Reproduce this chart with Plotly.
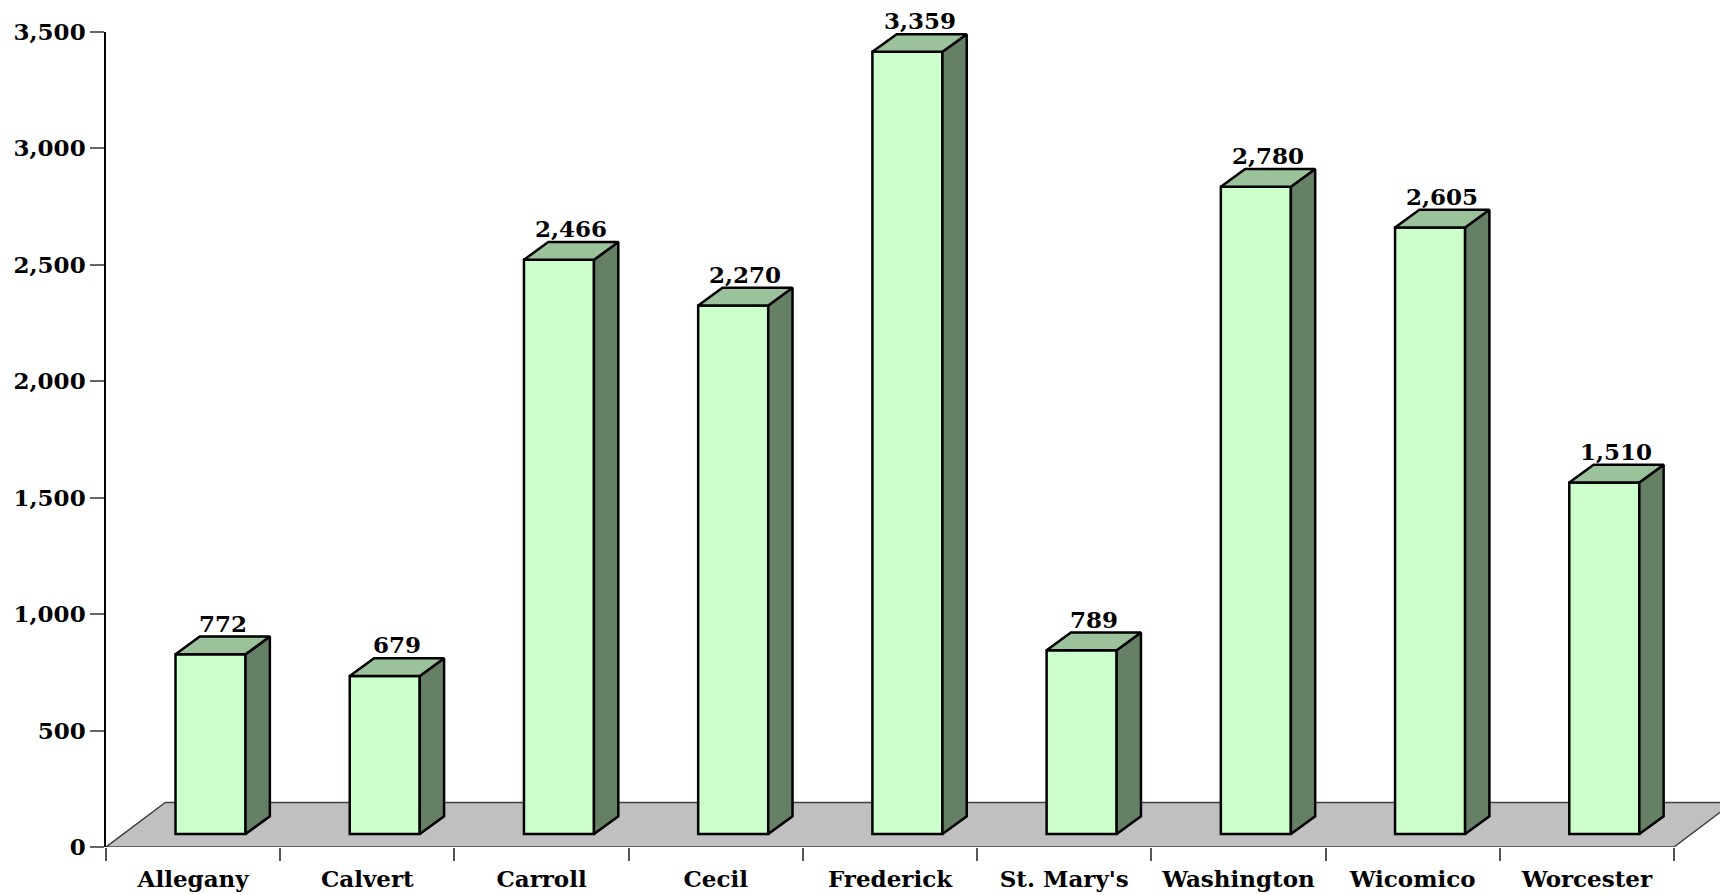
import plotly.graph_objs as go

counties = ['Allegany', 'Calvert', 'Carroll', 'Cecil', 'Frederick',
            "St. Mary's", 'Washington', 'Wicomico', 'Worcester']
values = [772, 679, 2466, 2270, 3359, 789, 2780, 2605, 1510]

# fake 3d geometry, in axis units
bar_width = 0.402
front_dx, front_dy = 0.1, 55.8     # how far the bar front sits behind the axis plane
depth_dx, depth_dy = 0.1395, 76.0  # bar depth
floor_dx, floor_dy = 0.3404, 191.5

font = dict(family='DejaVu Serif', size=23, color='black', weight='bold')

n = len(counties)
xs = [i + front_dx for i in range(n)]

# front faces
bars = go.Bar(x=xs, y=values, base=front_dy, width=bar_width,
              marker=dict(color='#CCFFCC', line=dict(color='black', width=2.5)),
              hoverinfo='skip', showlegend=False)

# side + top faces, one polygon per bar separated by None
side_x, side_y, top_x, top_y = [], [], [], []
for x, v in zip(xs, values):
    x0 = x - bar_width / 2
    x1 = x + bar_width / 2
    top = v + front_dy
    side_x += [x1, x1 + depth_dx, x1 + depth_dx, x1, x1, None]
    side_y += [front_dy, front_dy + depth_dy, top + depth_dy, top, front_dy, None]
    top_x += [x0, x1, x1 + depth_dx, x0 + depth_dx, x0, None]
    top_y += [top, top, top + depth_dy, top + depth_dy, top, None]

sides = go.Scatter(x=side_x, y=side_y, mode='lines', fill='toself', fillcolor='#668066',
                   line=dict(color='black', width=2.5), hoverinfo='skip', showlegend=False)
tops = go.Scatter(x=top_x, y=top_y, mode='lines', fill='toself', fillcolor='#9BC29B',
                  line=dict(color='black', width=2.5), hoverinfo='skip', showlegend=False)

fig = go.Figure(data=[bars, sides, tops])

# grey floor under the bars
left, right = -0.5, n - 0.5
fig.add_shape(type='path', xref='x', yref='y', layer='below',
              path='M {} 0 L {} 0 L {} {} L {} {} Z'.format(
                  left, right, right + floor_dx, floor_dy, left + floor_dx, floor_dy),
              fillcolor='#C0C0C0', line=dict(color='#404040', width=1.5))

for x, v in zip(xs, values):
    fig.add_annotation(x=x + depth_dx / 2, y=v + front_dy + depth_dy, text='{:,}'.format(v),
                       showarrow=False, yanchor='bottom', yshift=-1, borderpad=0, font=font)

x_range = [-0.5, 8.81]
# page body has an 8px margin, so the figure is 8px smaller than the window
fig.update_layout(
    width=1720, height=887,
    margin=dict(l=98, r=0, t=24, b=48, autoexpand=False),
    plot_bgcolor='white', paper_bgcolor='white',
    xaxis=dict(range=x_range, tickvals=[i - 0.5 for i in range(n + 1)], showticklabels=False,
               ticks='outside', ticklen=13, tickcolor='#555', tickwidth=1.5,
               showgrid=False, zeroline=False, showline=False),
    xaxis2=dict(range=x_range, overlaying='x', side='bottom', anchor='y',
                tickvals=list(range(n)), ticktext=counties, tickfont=font,
                ticks='outside', ticklen=11, tickcolor='rgba(0,0,0,0)',
                showgrid=False, zeroline=False, showline=False),
    yaxis=dict(range=[0, 3500], dtick=500, tickformat=',', tickfont=font,
               ticks='outside', ticklen=14, tickcolor='#666', tickwidth=1.5,
               showline=True, linecolor='black', linewidth=1.5,
               showgrid=False, zeroline=False),
)
# dummy trace so xaxis2 gets drawn
fig.add_trace(go.Scatter(x=[0], y=[0], xaxis='x2', mode='markers', marker=dict(opacity=0),
                         hoverinfo='skip', showlegend=False))

fig.write_html('out.html')
